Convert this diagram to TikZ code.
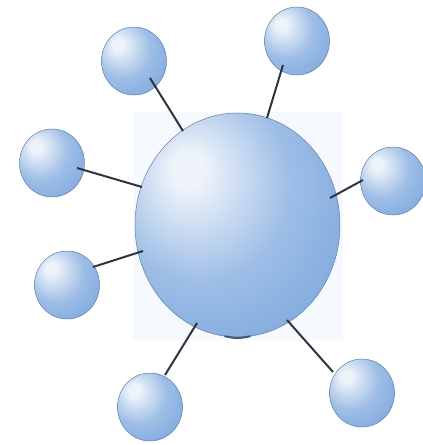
\documentclass[tikz,border=0pt]{standalone}
\usetikzlibrary{shapes.geometric}
\definecolor{hl}{HTML}{EEF3FA}
\definecolor{midb}{HTML}{9DBDE6}
\definecolor{edgeb}{HTML}{6C9DD8}
\definecolor{darkb}{HTML}{5688C8}
\definecolor{rim}{HTML}{5F80A8}
\definecolor{bgpale}{HTML}{F6F9FD}
\definecolor{stick}{HTML}{2E3440}
\definecolor{stub}{HTML}{3F5878}
\pgfdeclareradialshading{sph}{\pgfpoint{-13bp}{13bp}}{color(0bp)=(hl); color(4bp)=(hl); color(22bp)=(midb); color(48bp)=(edgeb); color(72bp)=(darkb)}
\tikzset{
  ball/.style={ellipse, inner sep=0pt, shading=sph, draw=rim, line width=0.5pt},
  small/.style={ball, minimum width=65pt, minimum height=68pt},
  link/.style={draw=stick, line width=2pt},
}
\begin{document}
\begin{tikzpicture}[x=1pt,y=-1pt]
\useasboundingbox (0,0) rectangle (423,445);
\fill[bgpale] (133,112) rectangle (343,340);
% central sphere
\node[ball, minimum width=205pt, minimum height=224pt] (c) at (237.5,225) {};
\draw[line width=2pt, draw=stub, line cap=round] (225,336.3) .. controls (237.5,338.6) .. (250,336.3);
% small spheres
\node[small] (s1) at (134,61) {};
\node[small] (s2) at (297,41) {};
\node[small] (s3) at (52,163) {};
\node[small] (s4) at (393,181) {};
\node[small] (s5) at (67,285) {};
\node[small] (s6) at (150,407) {};
\node[small] (s7) at (362,393) {};
% connector ends
\coordinate (a1) at (150,78);  \coordinate (b1) at (183,131);
\coordinate (a2) at (283,65);  \coordinate (b2) at (267,118);
\coordinate (a3) at (77,168);  \coordinate (b3) at (142,187);
\coordinate (a4) at (363,180); \coordinate (b4) at (330,198);
\coordinate (a5) at (93,267);  \coordinate (b5) at (143,251);
\coordinate (a6) at (165,375); \coordinate (b6) at (197,323);
\coordinate (a7) at (333,372); \coordinate (b7) at (287,320);
\foreach \i in {1,...,7} \draw[link] (a\i) -- (b\i);
\end{tikzpicture}
\end{document}
